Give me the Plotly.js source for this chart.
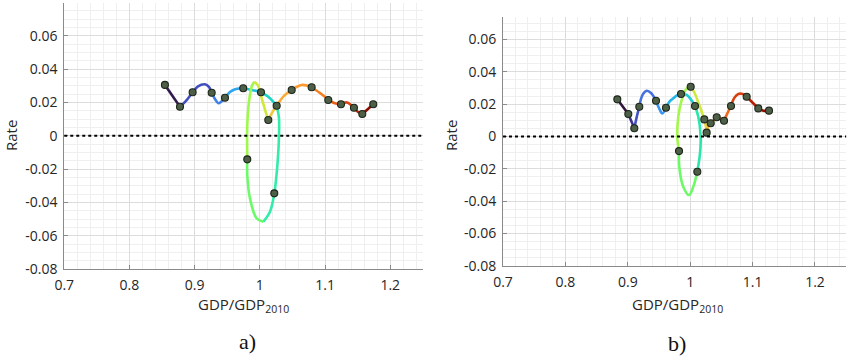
<!DOCTYPE html>
<html><head><meta charset="utf-8">
<script src="https://cdn.plot.ly/plotly-3.0.1.min.js"></script>
<style>html,body{margin:0;padding:0;background:#fff}#chart{width:850px;height:357px}</style>
</head><body><div id="chart"></div>
<script>
// ---------- Panel a) : yearly observations ----------
const gdpA  = [0.8544,0.8775,0.8969,0.9261,0.9465,0.9745,1.0017,0.9807,1.0221,1.0129,1.0258,1.0488,1.0794,1.1049,1.1244,1.1443,1.1571,1.1739];
const rateA = [0.0305,0.0174,0.0261,0.0258,0.0228,0.0285,0.0261,-0.0141,-0.0345,0.0095,0.0180,0.0275,0.0291,0.0215,0.0189,0.0168,0.0131,0.0189];
// Panel a) : trajectory curve as drawn (read off the picture)
const pathGdpA  = [0.8544,0.8775,0.8867,0.8969,0.9051,0.9158,0.9219,0.9261,0.9311,0.9362,0.9411,0.9465,0.9541,0.9633,0.9745,0.9879,1.0017,1.0129,1.0258,1.0293,1.0293,1.0273,1.0221,1.0155,1.0052,0.9951,0.9848,0.9807,0.9807,0.9807,0.9833,0.9874,0.9914,0.9966,1.0028,1.0089,1.0129,1.0181,1.0258,1.0370,1.0488,1.0641,1.0794,1.0948,1.1049,1.1137,1.1244,1.1336,1.1443,1.1505,1.1571,1.1658,1.1739];
const pathRateA = [0.0305,0.0174,0.0209,0.0261,0.0296,0.0309,0.0293,0.0258,0.0221,0.0195,0.0206,0.0228,0.0263,0.0281,0.0285,0.0275,0.0261,0.0234,0.0180,0.0105,-0.0005,-0.0155,-0.0345,-0.0455,-0.0515,-0.0495,-0.0375,-0.0235,-0.0141,0.0065,0.0204,0.0294,0.0324,0.0305,0.0225,0.0144,0.0095,0.0135,0.0180,0.0239,0.0275,0.0305,0.0291,0.0249,0.0215,0.0197,0.0189,0.0200,0.0168,0.0143,0.0131,0.0161,0.0189];
const runBreaksA = [0,1,7,11,14,16,18,24,28,32,36,38,40,42,44,46,48,50,52];

// ---------- Panel b) : yearly observations ----------
const gdpB  = [0.8832,0.9008,0.9104,0.9184,0.9452,0.9612,0.9853,1.0008,1.0077,0.9821,1.0114,1.0226,1.0264,1.0329,1.0425,1.0542,1.0654,1.0905,1.1091,1.1263];
const rateB = [0.0230,0.0139,0.0051,0.0184,0.0221,0.0178,0.0263,0.0308,0.0189,-0.0090,-0.0218,0.0106,0.0024,0.0082,0.0119,0.0098,0.0189,0.0246,0.0174,0.0160];
// Panel b) : trajectory curve as drawn
const pathGdpB  = [0.8832,0.9008,0.9104,0.9139,0.9184,0.9236,0.9303,0.9372,0.9452,0.9500,0.9553,0.9612,0.9668,0.9729,0.9788,0.9853,0.9944,1.0077,1.0130,1.0168,1.0157,1.0114,1.0050,0.9981,0.9889,0.9825,0.9821,0.9793,0.9809,0.9864,0.9944,1.0008,1.0061,1.0146,1.0226,1.0253,1.0264,1.0290,1.0329,1.0425,1.0478,1.0542,1.0595,1.0654,1.0702,1.0771,1.0841,1.0905,1.1002,1.1091,1.1171,1.1263];
const pathRateB = [0.0230,0.0139,0.0051,0.0114,0.0184,0.0257,0.0283,0.0269,0.0221,0.0176,0.0143,0.0178,0.0216,0.0236,0.0254,0.0263,0.0257,0.0189,0.0122,-0.0001,-0.0104,-0.0218,-0.0310,-0.0362,-0.0310,-0.0187,-0.0090,-0.0001,0.0122,0.0226,0.0298,0.0308,0.0277,0.0195,0.0106,0.0061,0.0024,0.0061,0.0082,0.0119,0.0113,0.0098,0.0143,0.0189,0.0236,0.0263,0.0263,0.0246,0.0209,0.0174,0.0160,0.0160];
const runBreaksB = [0,1,2,4,8,11,15,17,21,26,31,34,36,38,39,41,43,47,49,51];

// ---------- Axis ticks ----------
const xTickVals = [0.7,0.8,0.9,1.0,1.1,1.2];
const xTickText = ['0.7','0.8','0.9','1','1.1','1.2'];
const yTickVals = [-0.08,-0.06,-0.04,-0.02,0,0.02,0.04,0.06];
const yTickText = ['-0.08','-0.06','-0.04','-0.02','0','0.02','0.04','0.06'];

// ---------- Styles (turbo-like time colouring) ----------
const runColorsA = ['#321a4e','#4450c0','#3f80ea','#2ea6f0','#1fc4dc','#1bd6c4','#34ecaa','#6cfb68','#9ef94c','#d0e838','#f2c83a','#fbaa34','#fe992d','#f67f22','#ea5e16','#da4510','#be2606','#900c03'];
const runColorsB = ['#30123b','#3d318e','#4452c2','#4672e0','#3c95f2','#28b6e8','#1ccfd4','#2ae6aa','#6cfa66','#a2f84a','#cfe93a','#ecd23a','#fbb838','#fea031','#fb8a28','#f06a1c','#d8400f','#b82006','#8e0c03'];

const traces = [];
function addPath(px, py, breaks, colors, xa, ya) {
  for (let k = 0; k < breaks.length - 1; k++) {
    traces.push({
      type: 'scatter', mode: 'lines', xaxis: xa, yaxis: ya,
      x: px.slice(breaks[k], breaks[k+1] + 1),
      y: py.slice(breaks[k], breaks[k+1] + 1),
      line: {color: colors[k], width: 2.6, shape: 'spline', smoothing: 1},
      hoverinfo: 'skip', showlegend: false
    });
  }
}
function addMarkers(x, y, xa, ya) {
  traces.push({
    type: 'scatter', mode: 'markers', xaxis: xa, yaxis: ya, x: x, y: y,
    marker: {size: 7, color: '#4d5f46', line: {color: '#1c261a', width: 1.1}},
    showlegend: false
  });
}
addPath(pathGdpA, pathRateA, runBreaksA, runColorsA, 'x', 'y');
addMarkers(gdpA, rateA, 'x', 'y');
addPath(pathGdpB, pathRateB, runBreaksB, runColorsB, 'x2', 'y2');
addMarkers(gdpB, rateB, 'x2', 'y2');

const tickFont = {family: 'Open Sans, sans-serif', size: 14, color: '#262626'};
function xAxis(domain, anchor) {
  return {domain: domain, anchor: anchor, range: [0.7, 1.25], tickmode: 'array', tickvals: xTickVals, ticktext: xTickText,
    showline: true, linecolor: '#8a8a8a', linewidth: 1, ticks: 'inside', ticklen: 4, tickcolor: '#8a8a8a',
    showgrid: true, gridcolor: '#dcdcdc', gridwidth: 1, zeroline: false, tickfont: tickFont, ticklabelstandoff: 3,
    minor: {dtick: 0.02, tick0: 0.7, showgrid: true, gridcolor: '#efefef', gridwidth: 1, ticks: ''}};
}
function yAxis(domain, anchor, top) {
  return {domain: domain, anchor: anchor, range: [-0.08, top], tickmode: 'array', tickvals: yTickVals, ticktext: yTickText,
    showline: true, linecolor: '#8a8a8a', linewidth: 1, ticks: 'inside', ticklen: 4, tickcolor: '#8a8a8a',
    showgrid: true, gridcolor: '#dcdcdc', gridwidth: 1, zeroline: false, tickfont: tickFont, ticklabelstandoff: 3,
    minor: {dtick: 0.005, tick0: 0, showgrid: true, gridcolor: '#efefef', gridwidth: 1, ticks: ''}};
}
const titleFont = {family: 'Open Sans, sans-serif', size: 15, color: '#262626'};
const labFont = {family: 'Liberation Serif, serif', size: 22, color: '#111'};

const layout = {
  width: 850, height: 357, margin: {l: 0, r: 0, t: 0, b: 0},
  paper_bgcolor: '#fff', plot_bgcolor: '#fff', showlegend: false,
  xaxis: xAxis([0.0756, 0.4975], 'y'),
  yaxis: yAxis([0.2457, 0.9916], 'x', 0.0796),
  xaxis2: xAxis([0.5918, 0.9955], 'y2'),
  yaxis2: yAxis([0.2552, 0.9532], 'x2', 0.0741),
  shapes: [
    {type: 'line', xref: 'x domain', yref: 'y', x0: 0, x1: 1, y0: 0, y1: 0, line: {color: '#000', width: 2, dash: 'dot'}},
    {type: 'line', xref: 'x2 domain', yref: 'y2', x0: 0, x1: 1, y0: 0, y1: 0, line: {color: '#000', width: 2, dash: 'dot'}}
  ],
  annotations: [
    {xref: 'paper', yref: 'paper', x: 243/850, y: 1 - 305/357, text: 'GDP/GDP<sub>2010</sub>', showarrow: false, font: titleFont, xanchor: 'center', yanchor: 'middle'},
    {xref: 'paper', yref: 'paper', x: 677/850, y: 1 - 305/357, text: 'GDP/GDP<sub>2010</sub>', showarrow: false, font: titleFont, xanchor: 'center', yanchor: 'middle'},
    {xref: 'paper', yref: 'paper', x: 11/850, y: 1 - 136/357, text: 'Rate', textangle: -90, showarrow: false, font: titleFont, xanchor: 'center', yanchor: 'middle', borderpad: 0},
    {xref: 'paper', yref: 'paper', x: 451/850, y: 1 - 136/357, text: 'Rate', textangle: -90, showarrow: false, font: titleFont, xanchor: 'center', yanchor: 'middle', borderpad: 0},
    {xref: 'paper', yref: 'paper', x: 247/850, y: 1 - 341/357, text: 'a)', showarrow: false, font: labFont, xanchor: 'center', yanchor: 'middle'},
    {xref: 'paper', yref: 'paper', x: 677/850, y: 1 - 343/357, text: 'b)', showarrow: false, font: labFont, xanchor: 'center', yanchor: 'middle'}
  ]
};
Plotly.newPlot('chart', traces, layout, {displayModeBar: false, staticPlot: true});
</script></body></html>
